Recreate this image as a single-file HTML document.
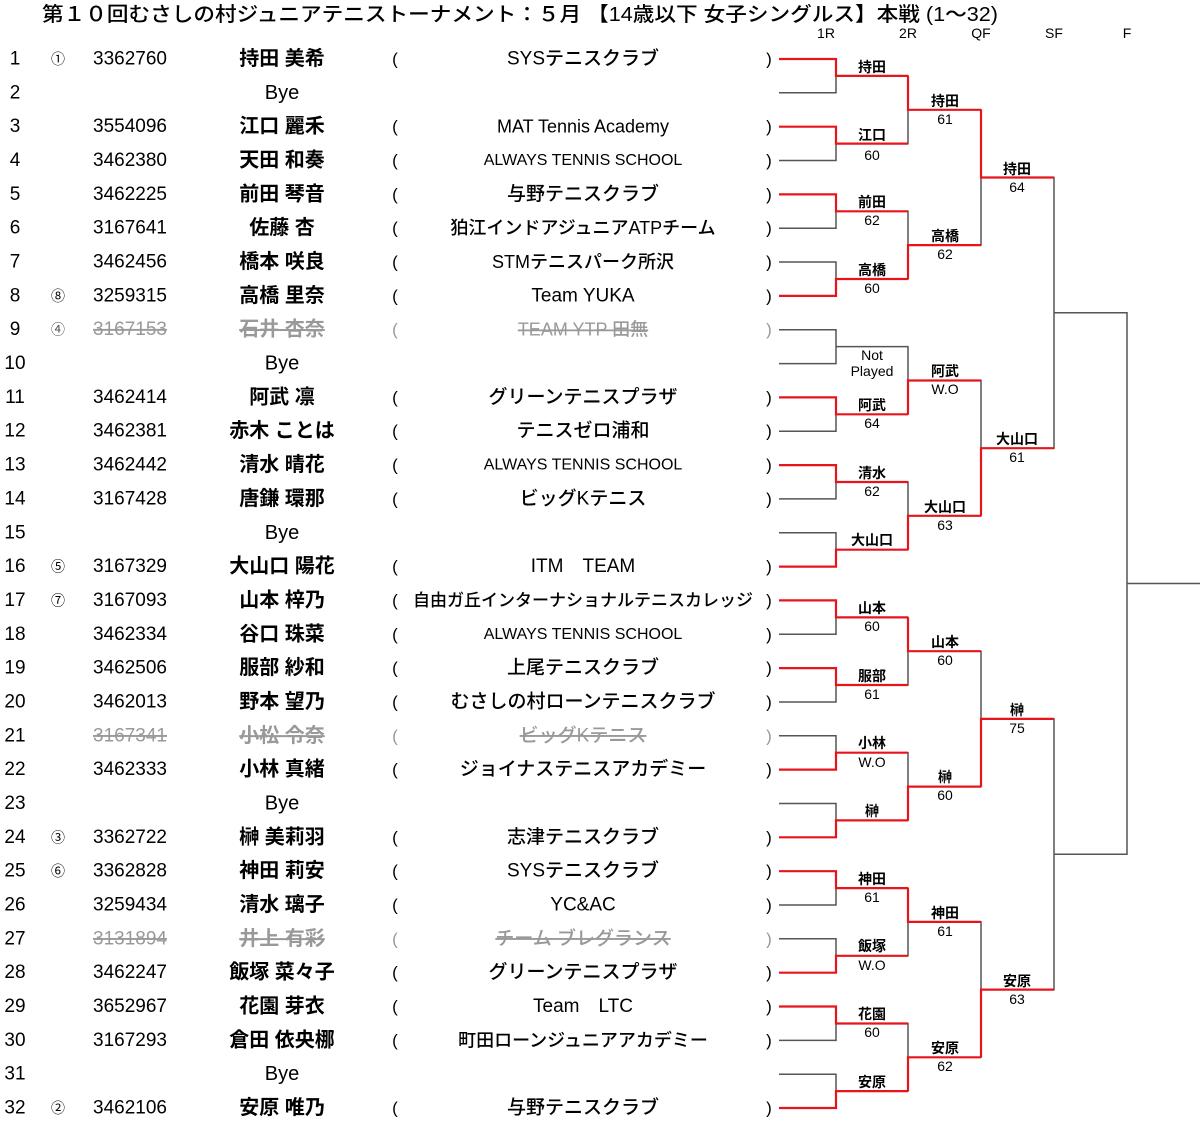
<!DOCTYPE html>
<html><head><meta charset="utf-8"><style>
html,body{margin:0;padding:0;background:#fff;}
svg{display:block;}
.t{font-family:"Liberation Sans","Noto Sans CJK JP",sans-serif;}
.n{font-size:19px;}
.nm{font-size:20px;font-weight:bold;}
.cl{font-size:19px;font-weight:500;}
.s{fill:#999;text-decoration:line-through;}
.lb{font-size:14px;font-weight:bold;}
.sc{font-size:14px;}
</style></head><body>
<svg width="1200" height="1122" viewBox="0 0 1200 1122" xmlns="http://www.w3.org/2000/svg" class="t">
<text x="42" y="21" font-size="20" font-weight="500" textLength="956" lengthAdjust="spacingAndGlyphs">第１０回むさしの村ジュニアテニストーナメント：５月 【14歳以下 女子シングルス】本戦 (1～32)</text>
<g font-size="14" text-anchor="middle">
<text x="826" y="38">1R</text><text x="908" y="38">2R</text><text x="981" y="38">QF</text><text x="1054" y="38">SF</text><text x="1127" y="38">F</text>
</g>

<g dominant-baseline="central">
<g class="n" text-anchor="middle">
<text x="15" y="59">1</text><text x="15" y="92.8">2</text><text x="15" y="126.7">3</text><text x="15" y="160.5">4</text><text x="15" y="194.4">5</text><text x="15" y="228.2">6</text><text x="15" y="262">7</text><text x="15" y="295.9">8</text><text x="15" y="329.7">9</text><text x="15" y="363.6">10</text><text x="15" y="397.4">11</text><text x="15" y="431.2">12</text><text x="15" y="465.1">13</text><text x="15" y="498.9">14</text><text x="15" y="532.8">15</text><text x="15" y="566.6">16</text><text x="15" y="600.4">17</text><text x="15" y="634.3">18</text><text x="15" y="668.1">19</text><text x="15" y="702">20</text><text x="15" y="735.8">21</text><text x="15" y="769.6">22</text><text x="15" y="803.5">23</text><text x="15" y="837.3">24</text><text x="15" y="871.2">25</text><text x="15" y="905">26</text><text x="15" y="938.8">27</text><text x="15" y="972.7">28</text><text x="15" y="1006.5">29</text><text x="15" y="1040.4">30</text><text x="15" y="1074.2">31</text><text x="15" y="1108">32</text>
</g>
<g font-size="14" text-anchor="middle">
<text x="58" y="59">①</text><text x="58" y="295.9">⑧</text><text x="58" y="329.7" fill="#555">④</text><text x="58" y="566.6">⑤</text><text x="58" y="600.4">⑦</text><text x="58" y="837.3">③</text><text x="58" y="871.2">⑥</text><text x="58" y="1108">②</text>
</g>
<g class="n">
<text x="93" y="59">3362760</text><text x="93" y="126.7">3554096</text><text x="93" y="160.5">3462380</text><text x="93" y="194.4">3462225</text><text x="93" y="228.2">3167641</text><text x="93" y="262">3462456</text><text x="93" y="295.9">3259315</text><text x="93" y="329.7" class="s">3167153</text><text x="93" y="397.4">3462414</text><text x="93" y="431.2">3462381</text><text x="93" y="465.1">3462442</text><text x="93" y="498.9">3167428</text><text x="93" y="566.6">3167329</text><text x="93" y="600.4">3167093</text><text x="93" y="634.3">3462334</text><text x="93" y="668.1">3462506</text><text x="93" y="702">3462013</text><text x="93" y="735.8" class="s">3167341</text><text x="93" y="769.6">3462333</text><text x="93" y="837.3">3362722</text><text x="93" y="871.2">3362828</text><text x="93" y="905">3259434</text><text x="93" y="938.8" class="s">3131894</text><text x="93" y="972.7">3462247</text><text x="93" y="1006.5">3652967</text><text x="93" y="1040.4">3167293</text><text x="93" y="1108">3462106</text>
</g>
<g class="nm" text-anchor="middle">
<text x="282" y="59">持田 美希</text><text x="282" y="92.8" font-weight="normal">Bye</text><text x="282" y="126.7">江口 麗禾</text><text x="282" y="160.5">天田 和奏</text><text x="282" y="194.4">前田 琴音</text><text x="282" y="228.2">佐藤 杏</text><text x="282" y="262">橋本 咲良</text><text x="282" y="295.9">高橋 里奈</text><text x="282" y="329.7" class="s">石井 杏奈</text><text x="282" y="363.6" font-weight="normal">Bye</text><text x="282" y="397.4">阿武 凛</text><text x="282" y="431.2">赤木 ことは</text><text x="282" y="465.1">清水 晴花</text><text x="282" y="498.9">唐鎌 環那</text><text x="282" y="532.8" font-weight="normal">Bye</text><text x="282" y="566.6">大山口 陽花</text><text x="282" y="600.4">山本 梓乃</text><text x="282" y="634.3">谷口 珠菜</text><text x="282" y="668.1">服部 紗和</text><text x="282" y="702">野本 望乃</text><text x="282" y="735.8" class="s">小松 令奈</text><text x="282" y="769.6">小林 真緒</text><text x="282" y="803.5" font-weight="normal">Bye</text><text x="282" y="837.3">榊 美莉羽</text><text x="282" y="871.2">神田 莉安</text><text x="282" y="905">清水 璃子</text><text x="282" y="938.8" class="s">井上 有彩</text><text x="282" y="972.7">飯塚 菜々子</text><text x="282" y="1006.5">花園 芽衣</text><text x="282" y="1040.4">倉田 依央梛</text><text x="282" y="1074.2" font-weight="normal">Bye</text><text x="282" y="1108">安原 唯乃</text>
</g>
<g font-size="17" text-anchor="middle">
<text x="395" y="59">(</text><text x="769" y="59">)</text>
<text x="395" y="126.7">(</text><text x="769" y="126.7">)</text>
<text x="395" y="160.5">(</text><text x="769" y="160.5">)</text>
<text x="395" y="194.4">(</text><text x="769" y="194.4">)</text>
<text x="395" y="228.2">(</text><text x="769" y="228.2">)</text>
<text x="395" y="262">(</text><text x="769" y="262">)</text>
<text x="395" y="295.9">(</text><text x="769" y="295.9">)</text>
<text x="395" y="329.7" fill="#999">(</text><text x="769" y="329.7" fill="#999">)</text>
<text x="395" y="397.4">(</text><text x="769" y="397.4">)</text>
<text x="395" y="431.2">(</text><text x="769" y="431.2">)</text>
<text x="395" y="465.1">(</text><text x="769" y="465.1">)</text>
<text x="395" y="498.9">(</text><text x="769" y="498.9">)</text>
<text x="395" y="566.6">(</text><text x="769" y="566.6">)</text>
<text x="395" y="600.4">(</text><text x="769" y="600.4">)</text>
<text x="395" y="634.3">(</text><text x="769" y="634.3">)</text>
<text x="395" y="668.1">(</text><text x="769" y="668.1">)</text>
<text x="395" y="702">(</text><text x="769" y="702">)</text>
<text x="395" y="735.8" fill="#999">(</text><text x="769" y="735.8" fill="#999">)</text>
<text x="395" y="769.6">(</text><text x="769" y="769.6">)</text>
<text x="395" y="837.3">(</text><text x="769" y="837.3">)</text>
<text x="395" y="871.2">(</text><text x="769" y="871.2">)</text>
<text x="395" y="905">(</text><text x="769" y="905">)</text>
<text x="395" y="938.8" fill="#999">(</text><text x="769" y="938.8" fill="#999">)</text>
<text x="395" y="972.7">(</text><text x="769" y="972.7">)</text>
<text x="395" y="1006.5">(</text><text x="769" y="1006.5">)</text>
<text x="395" y="1040.4">(</text><text x="769" y="1040.4">)</text>
<text x="395" y="1108">(</text><text x="769" y="1108">)</text>
</g>
<g class="cl" text-anchor="middle">
<text x="583" y="59">SYSテニスクラブ</text>
<text x="583" y="126.7" font-size="18">MAT Tennis Academy</text>
<text x="583" y="160.5" font-size="16">ALWAYS TENNIS SCHOOL</text>
<text x="583" y="194.4">与野テニスクラブ</text>
<text x="583" y="228.2" font-size="18">狛江インドアジュニアATPチーム</text>
<text x="583" y="262" font-size="18">STMテニスパーク所沢</text>
<text x="583" y="295.9">Team YUKA</text>
<text x="583" y="329.7" font-size="18" class="s">TEAM YTP 田無</text>
<text x="583" y="397.4">グリーンテニスプラザ</text>
<text x="583" y="431.2">テニスゼロ浦和</text>
<text x="583" y="465.1" font-size="16">ALWAYS TENNIS SCHOOL</text>
<text x="583" y="498.9">ビッグKテニス</text>
<text x="583" y="566.6">ITM　TEAM</text>
<text x="583" y="600.4" font-size="17">自由ガ丘インターナショナルテニスカレッジ</text>
<text x="583" y="634.3" font-size="16">ALWAYS TENNIS SCHOOL</text>
<text x="583" y="668.1">上尾テニスクラブ</text>
<text x="583" y="702">むさしの村ローンテニスクラブ</text>
<text x="583" y="735.8" class="s">ビッグKテニス</text>
<text x="583" y="769.6">ジョイナステニスアカデミー</text>
<text x="583" y="837.3">志津テニスクラブ</text>
<text x="583" y="871.2">SYSテニスクラブ</text>
<text x="583" y="905">YC&amp;AC</text>
<text x="583" y="938.8" class="s">チーム ブレグランス</text>
<text x="583" y="972.7">グリーンテニスプラザ</text>
<text x="583" y="1006.5">Team　LTC</text>
<text x="583" y="1040.4" font-size="18">町田ローンジュニアアカデミー</text>
<text x="583" y="1108">与野テニスクラブ</text>
</g>
</g>

<g stroke="#555" stroke-width="1.5" fill="none">
<path d="M779 59H836V92.8H779 M779 126.7H836V160.5H779 M779 194.4H836V228.2H779 M779 262H836V295.9H779 M779 329.7H836V363.6H779 M779 397.4H836V431.2H779 M779 465.1H836V498.9H779 M779 532.8H836V566.6H779 M779 600.4H836V634.3H779 M779 668.1H836V702H779 M779 735.8H836V769.6H779 M779 803.5H836V837.3H779 M779 871.2H836V905H779 M779 938.8H836V972.7H779 M779 1006.5H836V1040.4H779 M779 1074.2H836V1108H779"/>
<path d="M836 75.9H908V143.6H836 M836 211.3H908V279H836 M836 346.6H908V414.3H836 M836 482H908V549.7H836 M836 617.4H908V685H836 M836 752.7H908V820.4H836 M836 888.1H908V955.8H836 M836 1023.5H908V1091.1H836"/>
<path d="M908 109.8H981V245.1H908 M908 380.5H981V515.8H908 M908 651.2H981V786.6H908 M908 921.9H981V1057.3H908"/>
<path d="M981 177.5H1054V448.2H981 M981 718.9H1054V989.6H981"/>
<path d="M1054 312.8H1127V854.2H1054 M1127 583.5H1200"/>
</g>
<g stroke="#e8141c" stroke-width="2.2" fill="none">
<path d="M779 59H836V75.9H908 M779 126.7H836V143.6H908 M779 194.4H836V211.3H908 M779 295.9H836V279H908 M779 397.4H836V414.3H908 M779 465.1H836V482H908 M779 566.6H836V549.7H908 M779 600.4H836V617.4H908 M779 668.1H836V685H908 M779 769.6H836V752.7H908 M779 837.3H836V820.4H908 M779 871.2H836V888.1H908 M779 972.7H836V955.8H908 M779 1006.5H836V1023.5H908 M779 1108H836V1091.1H908"/>
<path d="M908 75.9V109.8H981 M908 279V245.1H981 M908 414.3V380.5H981 M908 549.7V515.8H981 M908 617.4V651.2H981 M908 820.4V786.6H981 M908 888.1V921.9H981 M908 1091.1V1057.3H981"/>
<path d="M981 109.8V177.5H1054 M981 515.8V448.2H1054 M981 786.6V718.9H1054 M981 1057.3V989.6H1054"/>
</g>

<g text-anchor="middle">
<g class="lb">
<text x="872" y="72">持田</text><text x="872" y="140">江口</text><text x="872" y="207">前田</text><text x="872" y="275">高橋</text><text x="872" y="410">阿武</text><text x="872" y="478">清水</text><text x="872" y="545">大山口</text><text x="872" y="613">山本</text><text x="872" y="681">服部</text><text x="872" y="748">小林</text><text x="872" y="816">榊</text><text x="872" y="884">神田</text><text x="872" y="951">飯塚</text><text x="872" y="1019">花園</text><text x="872" y="1087">安原</text>
<text x="945" y="106">持田</text><text x="945" y="241">高橋</text><text x="945" y="376">阿武</text><text x="945" y="512">大山口</text><text x="945" y="647">山本</text><text x="945" y="782">榊</text><text x="945" y="918">神田</text><text x="945" y="1053">安原</text>
<text x="1017" y="174">持田</text><text x="1017" y="444">大山口</text><text x="1017" y="715">榊</text><text x="1017" y="986">安原</text>
</g>
<g class="sc">
<text x="872" y="160">60</text><text x="872" y="225">62</text><text x="872" y="293">60</text><text x="872" y="428">64</text><text x="872" y="496">62</text><text x="872" y="631">60</text><text x="872" y="699">61</text><text x="872" y="767">W.O</text><text x="872" y="902">61</text><text x="872" y="970">W.O</text><text x="872" y="1037">60</text>
<text x="872" y="360">Not</text><text x="872" y="376">Played</text>
<text x="945" y="124">61</text><text x="945" y="259">62</text><text x="945" y="394">W.O</text><text x="945" y="530">63</text><text x="945" y="665">60</text><text x="945" y="800">60</text><text x="945" y="936">61</text><text x="945" y="1071">62</text>
<text x="1017" y="192">64</text><text x="1017" y="462">61</text><text x="1017" y="733">75</text><text x="1017" y="1004">63</text>
</g>
</g>
</svg>
</body></html>
